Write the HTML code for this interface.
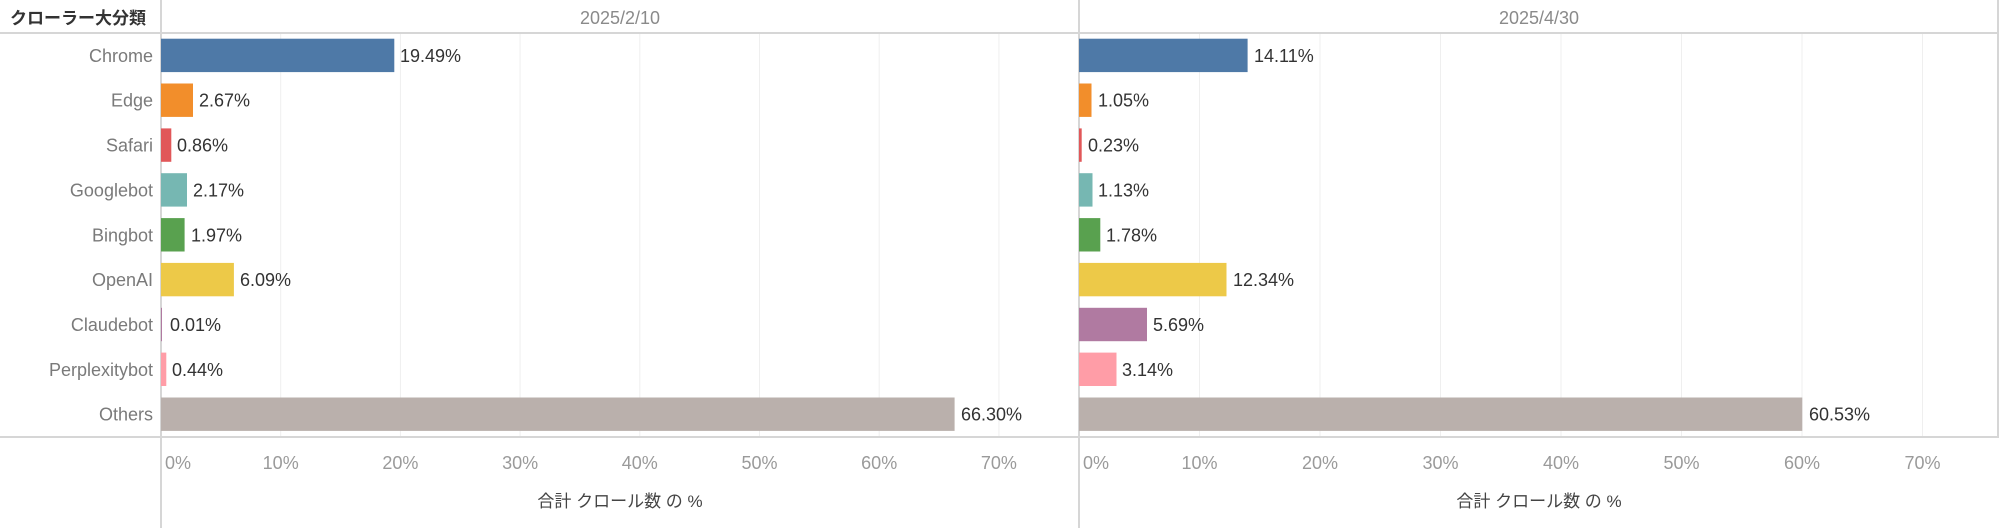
<!DOCTYPE html>
<html><head><meta charset="utf-8"><style>
html,body{margin:0;padding:0;background:#fff;}
svg{display:block;font-family:"Liberation Sans","Noto Sans CJK JP",sans-serif;}
.cat{fill:#7a7a7a;font-size:18px;text-anchor:end;}
.val{fill:#333;font-size:18px;}
.tick{fill:#9a9a9a;font-size:18px;text-anchor:middle;}
.hdr{fill:#8a8a8a;font-size:18px;text-anchor:middle;}
.g{stroke:#efefef;stroke-width:1;}
.b{stroke:#d6d6d6;stroke-width:2;}
</style></head><body>
<svg width="1999" height="528" viewBox="0 0 1999 528">
<g class="g">
<line x1="280.7" y1="34" x2="280.7" y2="436"/><line x1="400.4" y1="34" x2="400.4" y2="436"/><line x1="520.1" y1="34" x2="520.1" y2="436"/><line x1="639.8" y1="34" x2="639.8" y2="436"/><line x1="759.5" y1="34" x2="759.5" y2="436"/><line x1="879.2" y1="34" x2="879.2" y2="436"/><line x1="998.9" y1="34" x2="998.9" y2="436"/>
<line x1="1199.5" y1="34" x2="1199.5" y2="436"/><line x1="1320" y1="34" x2="1320" y2="436"/><line x1="1440.5" y1="34" x2="1440.5" y2="436"/><line x1="1561" y1="34" x2="1561" y2="436"/><line x1="1681.5" y1="34" x2="1681.5" y2="436"/><line x1="1802" y1="34" x2="1802" y2="436"/><line x1="1922.5" y1="34" x2="1922.5" y2="436"/>
</g>
<g class="b">
<line x1="0" y1="33" x2="1999" y2="33"/>
<line x1="0" y1="437" x2="1999" y2="437"/>
<line x1="161" y1="0" x2="161" y2="528"/>
<line x1="1079" y1="0" x2="1079" y2="528"/>
<line x1="1998" y1="0" x2="1998" y2="437"/>
</g>
<text x="78" y="24" style="font-size:17px;fill:#333;text-anchor:middle;font-weight:bold">クローラー大分類</text>
<text class="hdr" x="620" y="24">2025/2/10</text>
<text class="hdr" x="1539" y="24">2025/4/30</text>
<text class="cat" x="153" y="61.9">Chrome</text>
<text class="cat" x="153" y="106.7">Edge</text>
<text class="cat" x="153" y="151.6">Safari</text>
<text class="cat" x="153" y="196.4">Googlebot</text>
<text class="cat" x="153" y="241.3">Bingbot</text>
<text class="cat" x="153" y="286.1">OpenAI</text>
<text class="cat" x="153" y="331">Claudebot</text>
<text class="cat" x="153" y="375.8">Perplexitybot</text>
<text class="cat" x="153" y="420.7">Others</text>
<rect x="161" y="38.7" width="233.3" height="33.4" fill="#4e79a7"/><text class="val" x="400" y="61.9">19.49%</text>
<rect x="161" y="83.5" width="32" height="33.4" fill="#f28e2b"/><text class="val" x="199" y="106.7">2.67%</text>
<rect x="161" y="128.4" width="10.3" height="33.4" fill="#e15759"/><text class="val" x="177" y="151.6">0.86%</text>
<rect x="161" y="173.2" width="26" height="33.4" fill="#76b7b2"/><text class="val" x="193" y="196.4">2.17%</text>
<rect x="161" y="218.1" width="23.6" height="33.4" fill="#59a14f"/><text class="val" x="191" y="241.3">1.97%</text>
<rect x="161" y="262.9" width="72.9" height="33.4" fill="#edc948"/><text class="val" x="240" y="286.1">6.09%</text>
<rect x="161" y="307.8" width="1" height="33.4" fill="#b07aa1"/><text class="val" x="170" y="331">0.01%</text>
<rect x="161" y="352.6" width="5.3" height="33.4" fill="#ff9da7"/><text class="val" x="172" y="375.8">0.44%</text>
<rect x="161" y="397.5" width="793.6" height="33.4" fill="#bab0ac"/><text class="val" x="961" y="420.7">66.30%</text>
<rect x="1079" y="38.7" width="168.6" height="33.4" fill="#4e79a7"/><text class="val" x="1254" y="61.9">14.11%</text>
<rect x="1079" y="83.5" width="12.5" height="33.4" fill="#f28e2b"/><text class="val" x="1098" y="106.7">1.05%</text>
<rect x="1079" y="128.4" width="2.7" height="33.4" fill="#e15759"/><text class="val" x="1088" y="151.6">0.23%</text>
<rect x="1079" y="173.2" width="13.5" height="33.4" fill="#76b7b2"/><text class="val" x="1098" y="196.4">1.13%</text>
<rect x="1079" y="218.1" width="21.3" height="33.4" fill="#59a14f"/><text class="val" x="1106" y="241.3">1.78%</text>
<rect x="1079" y="262.9" width="147.5" height="33.4" fill="#edc948"/><text class="val" x="1233" y="286.1">12.34%</text>
<rect x="1079" y="307.8" width="68" height="33.4" fill="#b07aa1"/><text class="val" x="1153" y="331">5.69%</text>
<rect x="1079" y="352.6" width="37.5" height="33.4" fill="#ff9da7"/><text class="val" x="1122" y="375.8">3.14%</text>
<rect x="1079" y="397.5" width="723.3" height="33.4" fill="#bab0ac"/><text class="val" x="1809" y="420.7">60.53%</text>
<text class="tick" x="178" y="469">0%</text><text class="tick" x="280.7" y="469">10%</text><text class="tick" x="400.4" y="469">20%</text><text class="tick" x="520.1" y="469">30%</text><text class="tick" x="639.8" y="469">40%</text><text class="tick" x="759.5" y="469">50%</text><text class="tick" x="879.2" y="469">60%</text><text class="tick" x="998.9" y="469">70%</text>
<text class="tick" x="1096" y="469">0%</text><text class="tick" x="1199.5" y="469">10%</text><text class="tick" x="1320" y="469">20%</text><text class="tick" x="1440.5" y="469">30%</text><text class="tick" x="1561" y="469">40%</text><text class="tick" x="1681.5" y="469">50%</text><text class="tick" x="1802" y="469">60%</text><text class="tick" x="1922.5" y="469">70%</text>
<text x="620" y="507" style="font-size:17px;fill:#444;text-anchor:middle">合計 クロール数 の %</text>
<text x="1539" y="507" style="font-size:17px;fill:#444;text-anchor:middle">合計 クロール数 の %</text>
</svg>
</body></html>
